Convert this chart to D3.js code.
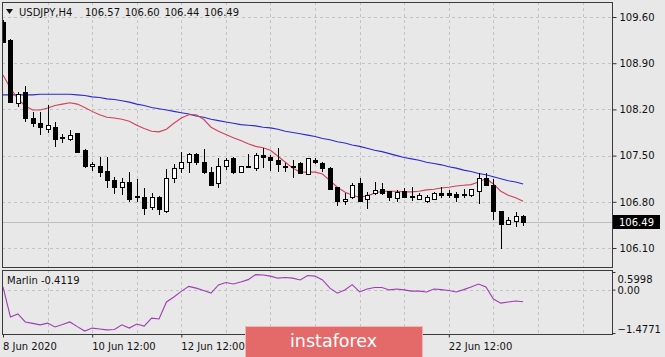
<!DOCTYPE html>
<html><head><meta charset="utf-8">
<script src="https://cdn.jsdelivr.net/npm/d3@7"></script>
<style>
html,body{margin:0;padding:0;background:#e8e8e8;}
svg{display:block;}
text{font-family:"DejaVu Sans",sans-serif;}
</style></head>
<body>
<svg id="chart" width="665" height="357"></svg>
<script>
// ---------- DATA ----------
const symbolTitle = "USDJPY,H4";
const lastOHLC = ["106.57", "106.60", "106.44", "106.49"];
const openV  = [109.52,109.25,108.29,108.45,108.06,107.99,107.90,107.93,107.77,107.74,107.83,107.58,107.33,107.34,107.26,107.12,107.01,107.10,106.88,106.87,106.71,106.87,106.66,107.16,107.30,107.40,107.51,107.39,107.24,107.08,107.33,107.45,107.25,107.34,107.31,107.50,107.47,107.42,107.34,107.34,107.38,107.22,107.43,107.38,107.31,107.01,106.80,106.86,107.07,106.83,106.92,106.98,106.95,106.85,106.95,106.88,106.84,106.80,106.84,106.93,106.93,106.91,106.91,106.89,106.95,107.16,107.05,106.65,106.46,106.50,106.57];
const highV  = [109.56,109.27,108.46,108.55,108.16,108.16,108.27,108.01,107.83,107.89,107.84,107.60,107.40,107.48,107.48,107.18,107.16,107.25,107.15,107.01,106.93,106.89,107.30,107.37,107.55,107.54,107.54,107.60,107.33,107.46,107.46,107.48,107.34,107.52,107.54,107.62,107.51,107.62,107.39,107.43,107.41,107.46,107.46,107.41,107.32,107.02,106.93,107.08,107.16,106.95,107.10,107.08,106.96,106.98,107.01,107.02,106.93,106.90,106.95,107.02,106.98,106.95,106.99,106.99,107.24,107.24,107.14,106.65,106.57,106.64,106.60];
const lowV   = [109.20,108.29,108.23,108.01,107.93,107.81,107.84,107.63,107.69,107.72,107.54,107.31,107.27,107.18,107.01,106.92,106.90,106.80,106.80,106.60,106.68,106.60,106.63,107.09,107.24,107.24,107.36,107.22,107.04,107.01,107.28,107.22,107.24,107.31,107.27,107.31,107.27,107.25,107.25,107.16,107.22,107.20,107.37,107.25,106.98,106.74,106.75,106.84,106.80,106.69,106.90,106.90,106.81,106.80,106.86,106.81,106.83,106.78,106.83,106.86,106.86,106.80,106.86,106.87,106.77,107.04,106.52,106.08,106.45,106.42,106.44];
const closeV = [109.22,108.30,108.42,108.06,107.98,107.92,107.95,107.75,107.76,107.80,107.55,107.33,107.37,107.24,107.13,107.01,107.09,106.84,106.87,106.70,106.86,106.68,107.16,107.31,107.40,107.52,107.40,107.24,107.05,107.33,107.42,107.24,107.33,107.32,107.50,107.47,107.43,107.37,107.32,107.33,107.23,107.45,107.40,107.30,106.99,106.80,106.84,107.05,106.81,106.89,106.97,106.93,106.86,106.94,106.87,106.87,106.89,106.86,106.93,106.90,106.89,106.87,106.89,106.98,107.16,107.05,106.65,106.46,106.52,106.57,106.49];
const maSlow = [108.42,108.42,108.42,108.42,108.42,108.43,108.43,108.43,108.43,108.43,108.42,108.41,108.39,108.38,108.36,108.35,108.33,108.31,108.28,108.26,108.23,108.21,108.19,108.17,108.15,108.13,108.10,108.08,108.05,108.03,108.01,107.99,107.97,107.96,107.95,107.93,107.92,107.90,107.87,107.85,107.83,107.81,107.79,107.76,107.74,107.71,107.69,107.66,107.64,107.61,107.58,107.56,107.53,107.50,107.47,107.45,107.43,107.40,107.38,107.36,107.33,107.31,107.28,107.26,107.23,107.21,107.18,107.15,107.12,107.10,107.07];
const maFast = [108.72,108.52,108.36,108.25,108.19,108.19,108.22,108.26,108.28,108.30,108.28,108.23,108.17,108.12,108.08,108.07,108.05,108.02,107.96,107.91,107.87,107.86,107.90,107.99,108.07,108.12,108.12,108.05,107.93,107.87,107.82,107.77,107.73,107.68,107.64,107.62,107.58,107.49,107.40,107.31,107.25,107.25,107.25,107.22,107.12,107.02,106.95,106.90,106.87,106.89,106.93,106.96,106.96,106.96,106.95,106.95,106.96,106.98,106.99,107.01,107.02,107.04,107.05,107.06,107.10,107.15,107.07,106.96,106.90,106.86,106.81];
const marlin = [0.09,-0.93,-0.83,-1.10,-1.15,-1.20,-1.14,-1.27,-1.19,-1.10,-1.26,-1.41,-1.31,-1.34,-1.37,-1.36,-1.20,-1.31,-1.17,-1.24,-0.97,-1.00,-0.42,-0.25,-0.06,0.11,0.05,-0.03,-0.12,0.16,0.24,0.19,0.26,0.34,0.51,0.50,0.46,0.39,0.41,0.39,0.33,0.48,0.46,0.33,0.05,-0.12,-0.01,0.17,-0.08,0.02,0.07,0.07,-0.01,0.02,-0.01,-0.05,-0.05,-0.08,0.02,0.00,-0.03,-0.08,0.00,0.09,0.19,0.09,-0.32,-0.46,-0.42,-0.39,-0.4119];
const priceTicks = [106.10,106.80,107.50,108.20,108.90,109.60];
const marlinTicks = [0.5998,0.00,-1.4771];
const xTickIdx = [0,12,24,36,48,60];
const xTickLabels = ["8 Jun 2020","10 Jun 12:00","12 Jun 12:00","16 Jun 12:00","18 Jun 12:00","22 Jun 12:00"];
const gridIdx = [6,12,18,24,30,36,42,48,54,60,66,72,78];
const lastPrice = 106.49;

// ---------- LAYOUT ----------
const svg = d3.select("#chart");
const P = {l:2, r:612, t:2, b:267};
const I = {t:270, b:334};
const n = closeV.length;
const candles = d3.range(n).map(i=>({i,o:openV[i],h:highV[i],l:lowV[i],c:closeV[i]}));

const x = d3.scaleLinear().domain([0,70]).range([3,523.1]);
const y = d3.scaleLinear().domain([106.10,109.60]).range([248,17]);
const ym = d3.scaleLinear().domain([-1.4771,0.5998]).range([333,272]);

svg.append("rect").attr("width",665).attr("height",357).attr("fill","#e8e8e8");

const defs = svg.append("defs");
defs.append("clipPath").attr("id","cm").append("rect")
  .attr("x",P.l).attr("y",P.t).attr("width",P.r-P.l).attr("height",P.b-P.t);
defs.append("clipPath").attr("id","ci").append("rect")
  .attr("x",P.l).attr("y",I.t).attr("width",P.r-P.l).attr("height",I.b-I.t);

const gridCol = "#c3c3c3";
const gm = svg.append("g").attr("clip-path","url(#cm)");
gm.selectAll("line.h").data(priceTicks).join("line")
  .attr("x1",P.l).attr("x2",P.r).attr("y1",d=>Math.round(y(d))+0.5).attr("y2",d=>Math.round(y(d))+0.5)
  .attr("stroke",gridCol).attr("stroke-dasharray","3,3");
gm.selectAll("line.v").data(gridIdx).join("line")
  .attr("x1",d=>Math.round(x(d))+0.5).attr("x2",d=>Math.round(x(d))+0.5).attr("y1",P.t).attr("y2",P.b)
  .attr("stroke",gridCol).attr("stroke-dasharray","3,3");
gm.append("line").attr("x1",P.l).attr("x2",P.r)
  .attr("y1",Math.round(y(lastPrice))+0.5).attr("y2",Math.round(y(lastPrice))+0.5)
  .attr("stroke","#bdbdbd");

const gi = svg.append("g").attr("clip-path","url(#ci)");
gi.append("line").attr("x1",P.l).attr("x2",P.r).attr("y1",Math.round(ym(0))+0.5).attr("y2",Math.round(ym(0))+0.5)
  .attr("stroke",gridCol).attr("stroke-dasharray","3,3");
gi.selectAll("line.v").data(gridIdx).join("line")
  .attr("x1",d=>Math.round(x(d))+0.5).attr("x2",d=>Math.round(x(d))+0.5).attr("y1",I.t).attr("y2",I.b)
  .attr("stroke",gridCol).attr("stroke-dasharray","3,3");

const lineMain = d3.line().x((d,i)=>x(i)).y(d=>y(d));
gm.append("path").attr("d",lineMain(maSlow)).attr("fill","none").attr("stroke","#2a2ad0").attr("stroke-width",1.1);
gm.append("path").attr("d",lineMain(maFast)).attr("fill","none").attr("stroke","#d2405a").attr("stroke-width",1.1);

const cg = gm.append("g").attr("shape-rendering","crispEdges");
cg.selectAll("line.w").data(candles).join("line")
  .attr("x1",d=>Math.round(x(d.i))+0.5).attr("x2",d=>Math.round(x(d.i))+0.5)
  .attr("y1",d=>y(d.h)).attr("y2",d=>y(d.l)).attr("stroke","#000");
cg.selectAll("rect.b").data(candles).join("rect")
  .attr("x",d=>Math.round(x(d.i))-1.5).attr("width",4)
  .attr("y",d=>Math.min(y(d.o),y(d.c))).attr("height",d=>Math.max(1,Math.abs(y(d.o)-y(d.c))))
  .attr("fill",d=>d.c>=d.o?"#fff":"#000").attr("stroke","#000");

gi.append("path").attr("d",d3.line().x((d,i)=>x(i)).y(d=>ym(d))(marlin))
  .attr("fill","none").attr("stroke","#a03cb4").attr("stroke-width",1.1);

svg.append("rect").attr("x",P.l+0.5).attr("y",P.t+0.5).attr("width",P.r-P.l).attr("height",P.b-P.t)
  .attr("fill","none").attr("stroke","#3a3a3a");
svg.append("rect").attr("x",P.l+0.5).attr("y",I.t+0.5).attr("width",P.r-P.l).attr("height",I.b-I.t)
  .attr("fill","none").attr("stroke","#3a3a3a");

const ya = svg.append("g").attr("transform",`translate(${P.r+0.5},0)`)
  .call(d3.axisRight(y).tickValues(priceTicks).tickSize(4).tickPadding(3).tickFormat(d3.format(".2f")));
ya.select(".domain").remove();
ya.selectAll("text").attr("font-size",10).attr("font-family","DejaVu Sans").attr("fill","#111");
ya.selectAll("line").attr("stroke","#333");

const lp = svg.append("g").attr("transform",`translate(${P.r+1},${Math.round(y(lastPrice))})`);
lp.append("rect").attr("x",0).attr("y",-7).attr("width",47).attr("height",14).attr("fill","#000");
lp.append("text").attr("x",6).attr("y",4).attr("font-size",10).attr("fill","#fff").text(d3.format(".2f")(lastPrice));

const yi = svg.append("g").attr("transform",`translate(${P.r+0.5},0)`)
  .call(d3.axisRight(ym).tickValues(marlinTicks).tickSize(3).tickPadding(2)
    .tickFormat(d=>d===0?"0.00":d3.format(".4f")(d)));
yi.select(".domain").remove();
yi.selectAll("line").attr("stroke","#333");
yi.selectAll("text").attr("font-size",10).attr("fill","#111")
  .attr("y",d=>d>0.5?7:(d<-1?-4:1));

const xa = svg.append("g").attr("transform",`translate(0,${I.b+0.5})`)
  .call(d3.axisBottom(x).tickValues(xTickIdx).tickSize(3).tickPadding(5).tickFormat((d,i)=>xTickLabels[i]));
xa.select(".domain").remove();
xa.selectAll("line").attr("stroke","#333");
xa.selectAll("text").attr("font-size",10).attr("fill","#111").attr("text-anchor","start").attr("dx",-0.5);

svg.append("path").attr("d","M6,9 L13,9 L9.5,14 Z").attr("fill","#111");
svg.append("text").attr("x",19).attr("y",16).attr("font-size",10).attr("fill","#111").text(symbolTitle);
svg.selectAll("text.ohlc").data(lastOHLC).join("text").attr("class","ohlc")
  .attr("x",(d,i)=>85+i*39.7).attr("y",16).attr("font-size",10).attr("fill","#111").text(d=>d);

svg.append("text").attr("x",7).attr("y",284).attr("font-size",10).attr("fill","#111")
  .text("Marlin " + marlin[marlin.length-1].toFixed(4));

// logo watermark (covers part of the time axis, as in the reference)
const lg = svg.append("g");
lg.append("rect").attr("x",245.5).attr("y",326.5).attr("width",177).attr("height",34)
  .attr("fill","#e46a6a").attr("stroke","#f2b3b3");
lg.append("text").attr("x",290).attr("y",347).attr("font-family","Open Sans").attr("font-size",17.5)
  .attr("fill","#fff").text("instaforex");
</script>
</body></html>
